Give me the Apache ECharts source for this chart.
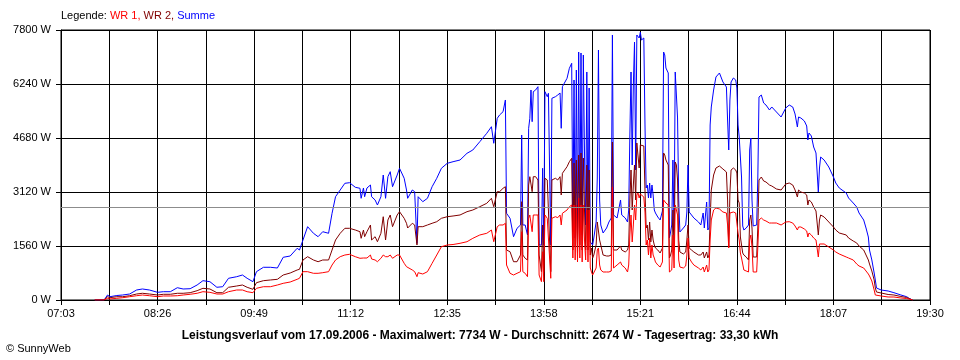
<!DOCTYPE html>
<html>
<head>
<meta charset="utf-8">
<script src="https://cdn.jsdelivr.net/npm/echarts@6/dist/echarts.min.js"></script>
<style>html,body{margin:0;padding:0;background:#fff}#c{width:960px;height:360px}</style>
</head>
<body>
<div id="c"></div>
<script>
// Zeitpunkte (HH:MM)
const times = [
 "07:32","07:40","07:43","07:45","07:51","07:56","08:02","08:08","08:13","08:19",
 "08:26","08:31","08:37","08:43","08:48","08:54","09:00","09:05","09:11","09:17",
 "09:22","09:27","09:34","09:39","09:43","09:48","09:51","09:57","10:03","10:09",
 "10:14","10:20","10:26","10:28","10:31","10:35","10:40","10:44","10:48","10:53",
 "10:56","10:59","11:03","11:07","11:11","11:16","11:20","11:21","11:23","11:24",
 "11:26","11:29","11:30","11:33","11:35","11:38","11:40","11:42","11:44","11:46",
 "11:48","11:52","11:54","11:58","12:00","12:01","12:05","12:07","12:09","12:10",
 "12:14","12:18","12:22","12:26","12:30","12:35","12:40","12:46","12:52","12:57",
 "13:03","13:09","13:13","13:15","13:18","13:20","13:23","13:25","13:26","13:29",
 "13:32","13:35","13:38","13:39","13:40","13:42","13:44","13:45","13:46","13:47",
 "13:48","13:49","13:51","13:53","13:54","13:56","13:57","13:58","13:59","14:01",
 "14:02","14:04","14:05","14:08","14:10","14:12","14:13","14:14","14:18","14:20",
 "14:22",
 "14:23","14:24","14:25","14:26","14:27","14:28","14:29","14:30","14:31","14:32",
 "14:33","14:34","14:35","14:36","14:37","14:38","14:39","14:40","14:41","14:43",
 "14:44","14:45","14:46","14:47","14:49","14:52","14:54","14:56","14:57","14:58",
 "15:01","15:04","15:05","15:08","15:10","15:11","15:12","15:13","15:14","15:15",
 "15:16","15:17","15:18","15:19","15:20","15:21","15:22","15:24",
 "15:25","15:26","15:27","15:28","15:29","15:30","15:31","15:32","15:33","15:34",
 "15:36","15:38","15:40","15:41","15:42","15:43","15:45","15:46","15:47","15:48",
 "15:49","15:50","15:51","15:52","15:53","15:54","15:55","15:58","16:00","16:01",
 "16:02","16:03","16:05","16:07","16:11","16:13","16:15","16:16","16:18","16:19",
 "16:20",
 "16:21","16:22","16:24","16:26","16:29","16:32","16:35","16:36","16:37","16:38",
 "16:39","16:41","16:43","16:44","16:45","16:46","16:47","16:48","16:49","16:50",
 "16:52","16:54","16:55","16:56","16:57","16:58","17:01","17:02","17:03","17:05",
 "17:07","17:09","17:12","17:14","17:18","17:22","17:26","17:29","17:32","17:34",
 "17:36","17:37","17:39","17:42","17:44","17:45","17:46","17:48","17:50","17:52",
 "17:54","17:55","17:56","17:59",
 "18:03","18:07","18:09","18:12","18:18","18:20","18:24","18:27","18:29","18:33",
 "18:35","18:37","18:38","18:40","18:42","18:43","18:44","18:48","18:54","18:59",
 "19:05","19:10","19:12","19:15"
];

// Summe (W)
const summe = [
 0,0,144,95,130,144,173,289,318,289,
 222,240,240,355,318,326,433,558,529,367,
 384,627,673,722,627,529,818,945,945,924,
 1234,1271,1494,1444,1733,2118,1927,1829,1973,1927,
 2505,2984,3178,3371,3389,3256,3227,2938,3236,2984,
 3236,3322,2984,2889,2744,2984,3611,2938,3562,3707,
 3273,3611,3805,3516,3178,2938,3178,3129,1638,2984,
 2840,2938,3273,3516,3805,3949,3995,4044,4238,4333,
 4573,4816,5006,4527,5249,5344,5440,5778,2505,2360,
 1829,2071,2167,4767,2167,2167,1878,4960,5249,6067,
 5151,6019,6067,6162,1589,1589,3805,1589,6019,5873,
 5971,1589,5827,5873,5922,5980,4960,6162,6405,6694,
 6838,
 1973,6356,1791,6644,1704,7164,2080,7136,1878,7078,
 4276,2167,6587,1791,6124,1676,1647,1589,1791,2253,
 3524,7222,2889,2167,1936,2080,2253,2369,7656,2456,
 2369,2889,2456,2369,2253,2600,4767,6587,3900,6211,
 7453,3756,7656,7713,7569,7734,7511,7569,
 5056,3236,3322,2947,3380,2947,3322,3033,2600,2513,
 2398,2311,2571,7164,7078,6702,6558,1791,1964,2167,
 4044,2022,6587,6644,5258,2889,1964,2080,2167,2542,
 3900,2542,2456,2369,2253,2167,2513,2080,2831,2022,
 2080,
 5056,5576,6067,6442,6558,6298,6153,5200,4333,5778,
 6298,6413,6356,6124,5056,4709,4709,3553,2138,2022,
 2080,2167,4333,4680,2889,2138,2167,3553,5864,5922,
 5691,5633,5489,5576,5431,5287,5547,5633,5576,5373,
 4998,5287,5258,5171,5027,4622,4824,4738,4420,4247,
 3120,3813,4131,4044,
 3842,3553,3380,3236,3091,2947,2802,2687,2513,2311,
 2080,1820,1444,1156,780,578,347,289,260,211,
 144,95,49,0
];

// WR 2 (W)
const wr2 = [
 0,0,95,66,95,95,124,173,194,173,
 144,165,165,194,194,211,269,338,318,211,
 211,367,404,433,367,309,500,558,578,598,
 722,780,867,887,1156,1251,1156,1106,1156,1156,
 1444,1733,1927,2071,2071,2022,1973,1782,2022,1829,
 1973,2167,1733,1829,1684,1927,2406,1733,2311,2456,
 2118,2456,2551,2360,2216,2080,2216,2167,1589,2118,
 2118,2167,2216,2262,2360,2406,2427,2456,2551,2600,
 2695,2794,2938,2695,3129,3129,3227,3273,1444,1395,
 1106,1106,1300,2840,1300,1205,1156,3322,3562,3524,
 3129,3562,3562,3467,1300,818,2167,818,3516,3467,
 3516,818,3467,3516,3467,3562,3033,3660,3851,3995,
 4094,
 1444,3958,1560,4044,1358,4189,1589,4247,1444,4102,
 2600,1444,3900,1444,3756,1300,1502,1213,1300,1589,
 2253,2253,1733,1589,1300,1271,1271,1300,4564,1444,
 1444,1560,1444,1387,1444,1589,2889,3756,2600,3322,
 3900,2889,4536,4564,3813,4478,4478,4449,
 3178,2080,2167,1733,2253,1676,2022,1733,1589,1502,
 1444,1358,1502,4247,4189,4044,3900,1213,1300,1444,
 2600,1444,3987,3900,3467,1733,1387,1329,1387,1733,
 2167,1502,1444,1387,1300,1300,1387,1213,1387,1213,
 1300,
 2311,3178,3611,3813,3871,3784,3698,2889,1531,3091,
 3756,3813,3756,3669,2889,2802,1820,1589,1358,1300,
 1242,1156,2311,2456,2080,1242,1242,2109,3467,3553,
 3438,3409,3322,3293,3207,3178,3351,3380,3322,3178,
 2976,3178,3120,3091,3033,2744,2889,2831,2687,2571,
 1878,2311,2456,2398,
 2253,2109,2022,1936,1878,1791,1704,1647,1560,1444,
 1300,1156,1040,838,578,347,231,202,159,144,
 101,72,43,0
];

// WR 1 (W)
const wr1 = [
 0,0,49,29,49,66,95,124,144,124,
 95,116,116,124,144,165,194,240,222,173,
 173,240,289,289,240,211,338,384,384,433,
 482,520,598,627,818,818,771,771,789,818,
 1011,1156,1251,1300,1320,1251,1205,1184,1213,1156,
 1213,1300,1184,1156,1106,1205,1300,1251,1251,1300,
 1205,1300,1300,1060,962,953,867,818,673,789,
 751,818,1060,1300,1540,1589,1603,1638,1684,1782,
 1878,1927,2022,1684,2118,2167,2167,2216,1011,771,
 722,771,818,1973,818,771,673,2360,2456,2456,
 1973,2456,2456,2456,722,529,1395,529,2456,2360,
 2406,627,2360,2406,2378,2456,2167,2505,2600,2695,
 2744,
 1213,2744,1156,2744,1098,2947,1213,2744,1098,2744,
 1733,1156,2600,1098,2600,924,809,722,722,924,
 1444,1502,1011,867,809,809,809,838,3264,924,
 1011,1098,1011,924,809,1011,1878,2456,1676,2167,
 2744,2311,3033,3091,2947,3062,3033,2976,
 2542,1589,1733,1300,1791,1213,1589,1300,1213,1098,
 1011,953,1098,2889,2889,2802,2744,809,809,867,
 1878,924,2744,2744,2456,1156,953,924,982,1300,
 1791,1213,1098,1011,924,867,953,809,1011,809,
 867,
 1733,2311,2600,2658,2629,2542,2513,2167,1502,2513,
 2542,2542,2513,2456,1936,1733,1358,1213,1156,867,
 838,809,1733,1878,1531,809,809,1531,2311,2369,
 2311,2282,2224,2224,2224,2167,2253,2262,2224,2138,
 2022,2109,2109,2051,1993,1820,1936,1878,1791,1733,
 1242,1618,1647,1618,
 1531,1444,1387,1329,1242,1213,1156,1040,982,924,
 838,751,693,549,289,144,116,116,87,87,
 58,43,29,0
];

const startTime = "07:03";
const endTime = "19:30";
const average = 2674;
const yTicks = [0, 1560, 3120, 4680, 6240, 7800];
const titleText = "Leistungsverlauf vom 17.09.2006 - Maximalwert: 7734 W - Durchschnitt: 2674 W - Tagesertrag: 33,30 kWh";

function toMin(s){ const p = s.split(':').map(Number); return p[0]*60 + p[1]; }
const t0 = toMin(startTime);
const span = toMin(endTime) - t0;
function fmt(m){ const h = Math.floor(m/60), mm = Math.round(m%60); return String(h).padStart(2,'0')+':'+String(mm).padStart(2,'0'); }
function pairs(vals){ const n = Math.min(times.length, vals.length); const out=[]; for(let i=0;i<n;i++) out.push([toMin(times[i])-t0, vals[i]]); return out; }

const FONT = '"Liberation Sans", Arial, sans-serif';
const chart = echarts.init(document.getElementById('c'), null, {renderer:'canvas'});
chart.setOption({
  animation: false,
  backgroundColor: '#fff',
  grid: { left: 61, right: 30, top: 30, bottom: 60, show: true, borderColor: '#000', borderWidth: 1, containLabel: false },
  xAxis: {
    type: 'value', min: 0, max: span, interval: span/18,
    axisLine: { show: true, lineStyle: { color: '#000', width: 1 } },
    axisTick: { show: true, length: 5, lineStyle: { color: '#000' } },
    splitLine: { show: true, lineStyle: { color: '#000', width: 1 } },
    axisLabel: {
      show: true, color: '#000', fontSize: 11, fontFamily: FONT, margin: 8,
      showMinLabel: true, showMaxLabel: true,
      formatter: function(v){ const k = Math.round(v/(span/18)); return (k%2===0) ? fmt(t0+v) : ''; }
    }
  },
  yAxis: {
    type: 'value', min: yTicks[0], max: yTicks[yTicks.length-1], interval: yTicks[1]-yTicks[0],
    axisLine: { show: true, lineStyle: { color: '#000', width: 1 } },
    axisTick: { show: true, length: 5, lineStyle: { color: '#000' } },
    splitLine: { show: true, lineStyle: { color: '#000', width: 1 } },
    axisLabel: { color: '#000', fontSize: 11, fontFamily: FONT, margin: 10, formatter: function(v){ return String(Math.round(v)) + ' W'; } }
  },
  series: [
    { name: 'Summe', type: 'line', data: pairs(summe), showSymbol: false, symbol: 'none', sampling: null,
      lineStyle: { color: '#0000ff', width: 1 }, itemStyle: { color: '#0000ff' }, z: 2,
      markLine: { silent: true, symbol: ['none','none'], label: { show: false },
        lineStyle: { color: '#8c8c8c', type: 'solid', width: 1 }, data: [{ yAxis: average }] } },
    { name: 'WR 2', type: 'line', data: pairs(wr2), showSymbol: false, symbol: 'none',
      lineStyle: { color: '#800000', width: 1 }, itemStyle: { color: '#800000' }, z: 3 },
    { name: 'WR 1', type: 'line', data: pairs(wr1), showSymbol: false, symbol: 'none',
      lineStyle: { color: '#ff0000', width: 1 }, itemStyle: { color: '#ff0000' }, z: 4 }
  ],
  graphic: [
    { type: 'text', left: 61, top: 10, style: {
        text: '{k|Legende: }{r|WR 1, }{d|WR 2, }{b|Summe}',
        fontSize: 11, fontFamily: FONT,
        rich: { k: { fill: '#000', fontSize: 11, fontFamily: FONT }, r: { fill: '#ff0000', fontSize: 11, fontFamily: FONT },
                d: { fill: '#800000', fontSize: 11, fontFamily: FONT }, b: { fill: '#0000ff', fontSize: 11, fontFamily: FONT } } } },
    { type: 'text', left: 'center', top: 330, style: { text: titleText, fill: '#000', fontSize: 12, fontWeight: 'bold', fontFamily: FONT } },
    { type: 'text', left: 6, top: 343, style: { text: '\u00A9 SunnyWeb', fill: '#000', fontSize: 11, fontFamily: FONT } }
  ]
});
</script>
</body>
</html>
